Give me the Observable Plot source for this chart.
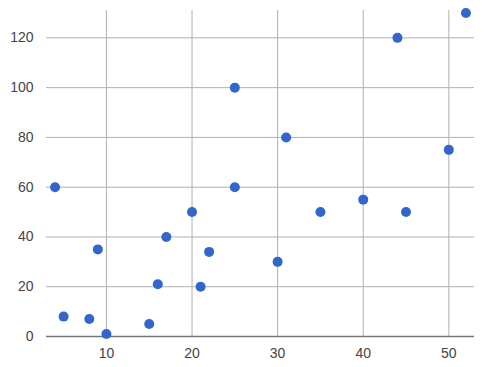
<!DOCTYPE html>
<html>
<head>
<meta charset="utf-8">
<script src="https://cdn.jsdelivr.net/npm/d3@7"></script>
<script src="https://cdn.jsdelivr.net/npm/@observablehq/plot@0.6"></script>
<style>
  body { margin: 0; background: #fff; }
  #chart { width: 484px; height: 367px; }
</style>
</head>
<body>
<div id="chart"></div>
<script>
const xValues = [4, 5, 8, 9, 10, 15, 16, 17, 20, 21, 22, 25, 25, 30, 31, 35, 40, 44, 45, 50, 52];
const yValues = [60, 8, 7, 35, 1, 5, 21, 40, 50, 20, 34, 100, 60, 30, 80, 50, 55, 120, 50, 75, 130];
const xTicks = [10, 20, 30, 40, 50];
const yTicks = [0, 20, 40, 60, 80, 100, 120];

const data = xValues.map((x, i) => ({x, y: yValues[i]}));

const chart = Plot.plot({
  width: 484,
  height: 367,
  marginLeft: 46,
  marginRight: 10,
  marginTop: 10,
  marginBottom: 31,
  style: {fontFamily: "Arial, 'Liberation Sans', sans-serif", fontSize: "14px", color: "#444", background: "#fff"},
  x: {domain: [3, 53], ticks: xTicks},
  y: {domain: [0, 131], ticks: yTicks},
  marks: [
    Plot.ruleX(xTicks, {stroke: "#b0b0b0", strokeWidth: 1}),
    Plot.ruleY(yTicks.filter(d => d > 0), {stroke: "#b0b0b0", strokeWidth: 1}),
    Plot.ruleY([0], {stroke: "#777", strokeWidth: 1.5}),
    Plot.axisX(xTicks, {tickSize: 0, tickPadding: 12, label: null, fontSize: 14, fill: "#444"}),
    Plot.axisY(yTicks, {tickSize: 0, tickPadding: 13, label: null, fontSize: 14, fill: "#444"}),
    Plot.dot(data, {x: "x", y: "y", r: 5, fill: "#3366cc", stroke: "none"})
  ]
});
document.getElementById("chart").append(chart);
</script>
</body>
</html>
